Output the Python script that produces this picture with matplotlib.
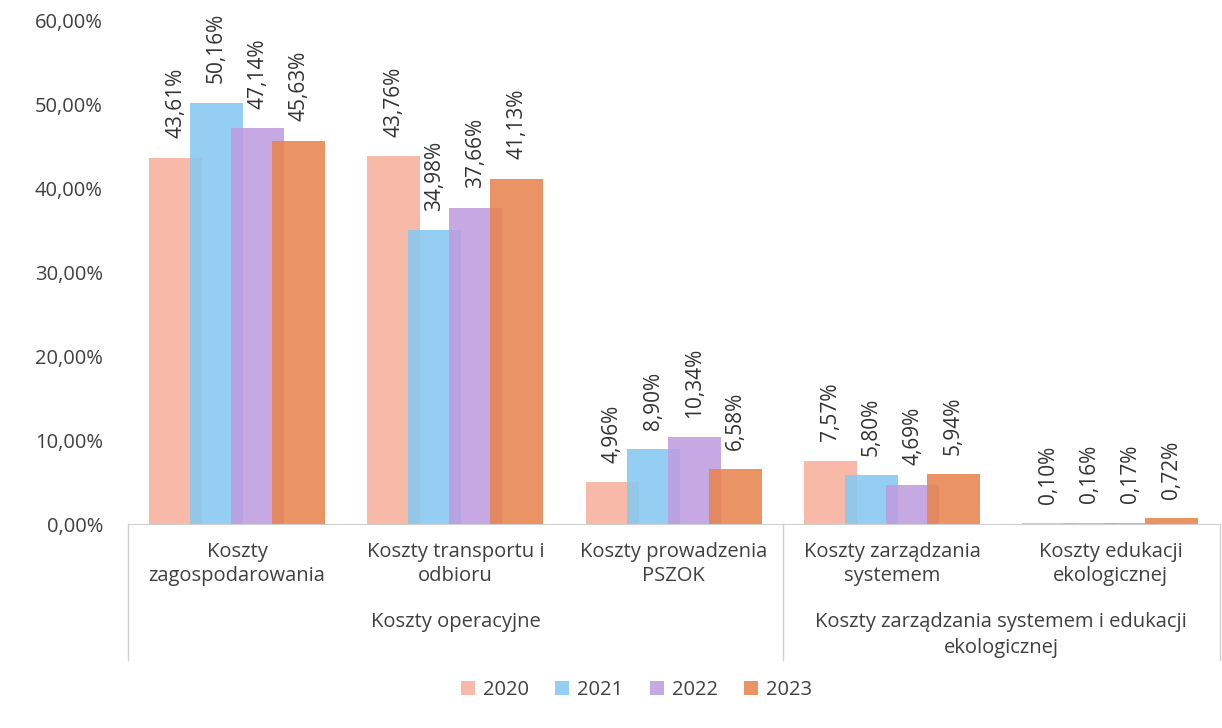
import matplotlib
matplotlib.use("Agg")
from matplotlib import pyplot as plt
from matplotlib.patches import Patch
import matplotlib.transforms as mtransforms
import numpy as np

plt.rcParams['font.family'] = ['Open Sans', 'DejaVu Sans']

categories = ['Koszty\nzagospodarowania', 'Koszty transportu i\nodbioru',
              'Koszty prowadzenia\nPSZOK', 'Koszty zarządzania\nsystemem',
              'Koszty edukacji\nekologicznej']
groups = ['Koszty operacyjne', 'Koszty zarządzania systemem i edukacji\nekologicznej']
years = ['2020', '2021', '2022', '2023']
v2020 = [43.61, 43.76, 4.96, 7.57, 0.10]
v2021 = [50.16, 34.98, 8.90, 5.80, 0.16]
v2022 = [47.14, 37.66, 10.34, 4.69, 0.17]
v2023 = [45.63, 41.13, 6.58, 5.94, 0.72]
series = [v2020, v2021, v2022, v2023]
colors = ['#f9b09c', '#86c8f2', '#bf9ce0', '#e8844f']

fig = plt.figure(figsize=(12.22, 7.28), dpi=100)
ax = fig.add_axes([0.1047, 0.280, 0.8933, 0.6925])

x = np.arange(len(categories))
offsets = [-0.2816, -0.0939, 0.0939, 0.2816]
width = 0.243
for vals, off, col in zip(series, offsets, colors):
    bars = ax.bar(x + off, vals, width, color=col, alpha=0.88, linewidth=0)
    for b, v in zip(bars, vals):
        ax.text(b.get_x() + b.get_width() / 2, v + 2.3,
                ('%.2f%%' % v).replace('.', ','), rotation=90,
                ha='center', va='bottom', fontsize=15, color='#333333')

ax.set_xlim(-0.5, 4.5)
ax.set_ylim(0, 60)
ax.set_yticks(np.arange(0, 61, 10))
ax.set_yticklabels([('%.2f%%' % t).replace('.', ',') for t in np.arange(0, 61, 10)],
                   fontsize=14.5, color='#404040')
ax.tick_params(axis='y', length=0, pad=18)
ax.set_xticks([])
for s in ['top', 'right', 'left']:
    ax.spines[s].set_visible(False)
ax.spines['bottom'].set_color('#d0d0d0')

# multi-level category axis
trans = mtransforms.blended_transform_factory(ax.transData, ax.transAxes)
for xs in [-0.5, 2.5, 4.5]:
    ax.plot([xs, xs], [0, -0.27], transform=trans, color='#d0d0d0',
            lw=1, clip_on=False)
for xi, lab in zip(x, categories):
    ax.text(xi, -0.035, lab, transform=trans, ha='center', va='top',
            fontsize=14.5, color='#404040', linespacing=1.3)
ax.text(1, -0.174, groups[0], transform=trans, ha='center', va='top',
        fontsize=14.5, color='#404040')
ax.text(3.5, -0.174, groups[1], transform=trans, ha='center', va='top',
        fontsize=14.5, color='#404040', linespacing=1.4)

handles = [Patch(facecolor=c, alpha=0.88, edgecolor='none') for c in colors]
fig.legend(handles, years, loc='center', bbox_to_anchor=(0.521, 0.052), ncol=4,
           frameon=False, fontsize=14.5, handlelength=0.7, handleheight=0.7,
           handletextpad=0.4, columnspacing=1.3, labelcolor='#404040')

fig.savefig('out.png', dpi=100)
